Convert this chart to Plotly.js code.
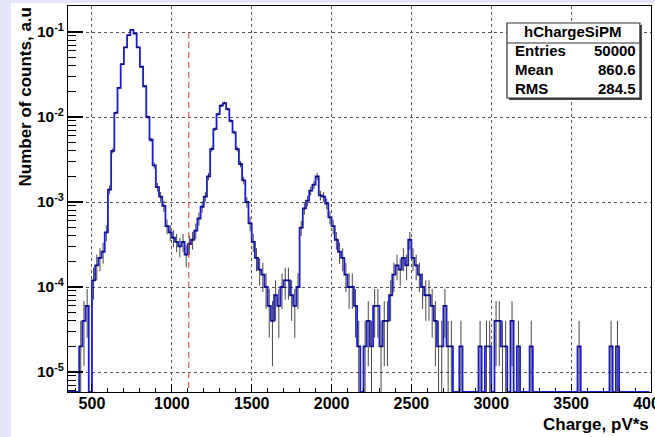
<!DOCTYPE html>
<html><head><meta charset="utf-8">
<script src="https://cdn.plot.ly/plotly-3.0.1.min.js"></script>
<style>
html,body{margin:0;padding:0;background:#e6e6fa;width:655px;height:437px;overflow:hidden}
#chart{position:absolute;left:11px;top:3px;width:644px;height:434px}
</style></head><body><div id="chart"></div>
<script>
// ---- data ----
const histName = 'hChargeSiPM';
const statLabels = ['Entries', 'Mean', 'RMS'];
const statValues = ['50000', '860.6', '284.5'];
const entries = 50000;
const binStart = 340;
const binWidth = 20;
// counts per bin, bins start at binStart, width binWidth
const counts = [
  0, 0, 0, 0, 1, 2, 3, 0, 6, 9,            // 340-520
  11, 13, 22, 70, 200, 560, 1100, 2100, 3300, 4600, // 540-720
  5300, 4800, 3300, 1950, 1150, 500, 270, 135, 75, 58, // 740-920
  45, 26, 22, 19, 17, 15, 17, 12, 16, 18,   // 940-1120
  23, 32, 44, 58, 100, 210, 360, 540, 680, 730, // 1140-1320
  620, 450, 330, 210, 140, 90, 50, 28, 17, 11,  // 1340-1520
  8, 7, 5, 3, 2, 4, 3, 5, 6, 6,             // 1540-1720
  4, 3, 5, 25, 42, 52, 68, 80, 100, 60,     // 1740-1920
  58, 48, 33, 26, 18, 13, 11, 7, 5, 5,      // 1940-2120
  3, 1, 0, 1, 2, 1, 3, 3, 1, 2,             // 2140-2320
  2, 4, 7, 9, 8, 11, 9, 18, 11, 9,          // 2340-2520
  7, 5, 4, 4, 3, 2, 1, 1, 3, 1,             // 2540-2720
  1, 0, 0, 1, 0, 0, 0, 0, 0, 1,             // 2740-2920
  0, 1, 1, 0, 2, 2, 1, 1, 0, 2,             // 2940-3120
  0, 1, 0, 0, 0, 1, 0, 0, 0, 0,             // 3140-3320
  0, 0, 0, 0, 0, 0, 0, 0, 0, 0,             // 3340-3520
  1, 0, 0, 0, 0, 0, 0, 0, 0, 0,             // 3540-3720
  1, 0, 1, 0, 0, 0, 0, 0, 0, 0,             // 3740-3920
  0, 0, 0                                   // 3940-3980
];
const cutX = 1106;      // red dashed threshold line
const cutTop = 0.1;
const xTicks = [500, 1000, 1500, 2000, 2500, 3000, 3500, 4000];
const yTicks = [1e-5, 1e-4, 1e-3, 1e-2, 1e-1];
const yTickText = ['10<sup>-5</sup>', '10<sup>-4</sup>', '10<sup>-3</sup>', '10<sup>-2</sup>', '10<sup>-1</sup>'];
const xTitle = 'Charge, pV*s';
const yTitle = 'Number of counts, a.u';

// ---- build ----
const yLogRange = [-5.235, -0.694];
const floorVal = Math.pow(10, yLogRange[0]);
const centers = counts.map((c, i) => binStart + binWidth * (i + 0.5));
const frac = counts.map(c => c / entries);
const lineY = frac.map(v => v > 0 ? v : floorVal);

const ex = [], ey = [], ee = [];
counts.forEach((c, i) => {
  if (c > 0) { ex.push(centers[i]); ey.push(c / entries); ee.push(Math.sqrt(c) / entries); }
});

const minorY = [];
for (let e = -6; e <= -1; e++) for (let d = 2; d <= 9; d++) minorY.push(d * Math.pow(10, e));

const traces = [
  { x: centers, y: lineY, mode: 'lines', line: { shape: 'hvh', color: '#1c1cd6', width: 1.8 }, hoverinfo: 'skip' },
  { x: ex, y: ey, mode: 'markers', marker: { size: 2, color: 'rgba(0,0,0,0)' },
    error_y: { type: 'data', array: ee, visible: true, color: 'rgba(0,0,0,0.72)', thickness: 1, width: 0 },
    error_x: { type: 'constant', value: binWidth / 2, visible: true, color: 'rgba(0,0,0,0.4)', thickness: 1, width: 0 },
    hoverinfo: 'skip' },
  { x: [cutX, cutX], y: [cutTop, floorVal / 10], mode: 'lines', line: { color: '#e03a3a', width: 1, dash: '6px,4px' }, hoverinfo: 'skip' }
];

const fontFam = 'Liberation Sans, Arial, Helvetica, sans-serif';
const bx0 = 0.753, bx1 = 0.981, by0 = 0.7617, by1 = 0.956, bySep = 0.9041;
const sx = 2 / 583, sy = 2 / 386;
const rowsY = [0.8845, 0.835, 0.786];

const annotations = [
  { text: '<b>' + xTitle + '</b>', xref: 'paper', yref: 'paper', x: 1, y: 0, xanchor: 'right', yanchor: 'top', yshift: -21,
    showarrow: false, font: { family: fontFam, size: 17, color: 'black' } },
  { text: '<b>' + yTitle + '</b>', xref: 'paper', yref: 'paper', x: 0, y: 1, xanchor: 'center', yanchor: 'top', xshift: -43, yshift: 0,
    textangle: -90, showarrow: false, font: { family: fontFam, size: 17, color: 'black' } },
  { text: '<b>' + histName + '</b>', xref: 'paper', yref: 'paper', x: (bx0 + bx1) / 2, y: 0.933, xanchor: 'center', yanchor: 'middle',
    showarrow: false, font: { family: fontFam, size: 15, color: 'black' } }
];
statLabels.forEach((lab, i) => {
  annotations.push({ text: '<b>' + lab + '</b>', xref: 'paper', yref: 'paper', x: 0.764, y: rowsY[i], xanchor: 'left', yanchor: 'middle',
    showarrow: false, font: { family: fontFam, size: 15, color: 'black' } });
  annotations.push({ text: '<b>' + statValues[i] + '</b>', xref: 'paper', yref: 'paper', x: 0.977, y: rowsY[i], xanchor: 'right', yanchor: 'middle',
    showarrow: false, font: { family: fontFam, size: 15, color: 'black' } });
});

const layout = {
  width: 644, height: 434,
  margin: { l: 57, r: 4, t: 3, b: 45 },
  paper_bgcolor: 'white', plot_bgcolor: 'white',
  showlegend: false,
  font: { family: fontFam, color: 'black' },
  xaxis: {
    range: [350, 4000], tickmode: 'array', tickvals: xTicks, ticks: 'inside', ticklen: 8, tickwidth: 1, tickcolor: 'black',
    showline: true, linecolor: 'black', linewidth: 1, mirror: true,
    showgrid: true, gridcolor: '#555', griddash: 'dot', gridwidth: 1, zeroline: false,
    tickfont: { family: fontFam, size: 16, weight: 'bold', color: 'black' }, ticklabeloverflow: 'allow', ticklabelstandoff: -3,
    minor: { tickmode: 'linear', tick0: 0, dtick: 100, ticks: 'inside', ticklen: 4, tickcolor: 'black', tickwidth: 1, showgrid: false }
  },
  yaxis: {
    type: 'log', range: yLogRange, tickmode: 'array', tickvals: yTicks, ticktext: yTickText,
    ticks: 'inside', ticklen: 15, tickwidth: 1.5, tickcolor: 'black',
    showline: true, linecolor: 'black', linewidth: 1, mirror: true,
    showgrid: true, gridcolor: '#555', griddash: 'dot', gridwidth: 1, zeroline: false,
    tickfont: { family: fontFam, size: 15.5, weight: 'bold', color: 'black' },
    minor: { tickmode: 'array', tickvals: minorY, ticks: 'inside', ticklen: 8, tickcolor: 'black', tickwidth: 1, showgrid: false }
  },
  shapes: [
    { type: 'rect', xref: 'paper', yref: 'paper', x0: bx0 + sx, x1: bx1 + sx, y0: by0 - sy, y1: by1 - sy,
      fillcolor: '#444', line: { width: 0 } },
    { type: 'rect', xref: 'paper', yref: 'paper', x0: bx0, x1: bx1, y0: by0, y1: by1,
      fillcolor: 'white', line: { color: '#333', width: 1.2 } },
    { type: 'line', xref: 'paper', yref: 'paper', x0: bx0, x1: bx1, y0: bySep, y1: bySep,
      line: { color: '#333', width: 1.2 } }
  ],
  annotations: annotations
};

Plotly.newPlot('chart', traces, layout, { staticPlot: true, displayModeBar: false });
</script></body></html>
